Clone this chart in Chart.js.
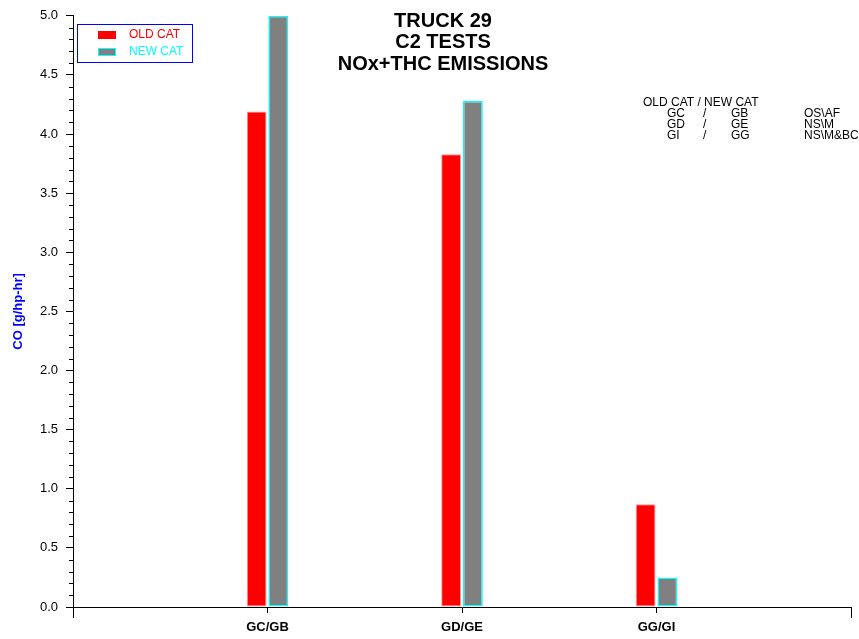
<!DOCTYPE html>
<html>
<head>
<meta charset="utf-8">
<script src="https://cdn.jsdelivr.net/npm/chart.js@4"></script>
<style>
  html, body { margin: 0; padding: 0; background: #fff; }
  #wrap { width: 859px; height: 639px; }
</style>
</head>
<body>
<div id="wrap"><canvas id="chart" width="859" height="639"></canvas></div>
<script>
// categories (old cat / new cat pairs)
var categories = ['GC/GB', 'GD/GE', 'GG/GI'];
var oldCat = [4.19, 3.83, 0.87];
var newCat = [5.00, 4.28, 0.25];
var yTicks = [0, 0.5, 1, 1.5, 2, 2.5, 3, 3.5, 4, 4.5, 5];

var titleLines = ['TRUCK 29', 'C2 TESTS', 'NOx+THC EMISSIONS'];
var noteHeader = 'OLD CAT / NEW CAT';
var noteOld = ['GC', 'GD', 'GI'];
var noteNew = ['GB', 'GE', 'GG'];
var noteDesc = ['OS\\AF', 'NS\\M', 'NS\\M&BC'];

var FONT = 'Arial, "Liberation Sans", sans-serif';

// empty slot at each end so the groups sit at 1,2,3 of a 0..4 axis
var labels = [''].concat(categories, ['']);
function pad(arr) { return [null].concat(arr, [null]); }

var decorations = {
  id: 'decorations',
  afterDraw: function(chart) {
    var ctx = chart.ctx;
    var area = chart.chartArea;
    var y = chart.scales.y;
    ctx.save();

    // minor ticks on the y axis
    ctx.strokeStyle = '#000';
    ctx.lineWidth = 1;
    for (var i = 0; i <= 50; i++) {
      if (i % 5 === 0) continue;
      var py = Math.round(y.getPixelForValue(i / 10)) + 0.5;
      ctx.beginPath();
      ctx.moveTo(area.left - 4, py);
      ctx.lineTo(area.left, py);
      ctx.stroke();
    }
    // long end ticks on x axis
    [area.left, area.right].forEach(function(px) {
      px = Math.round(px) + 0.5;
      ctx.beginPath();
      ctx.moveTo(px, area.bottom);
      ctx.lineTo(px, area.bottom + 11);
      ctx.stroke();
    });

    // title
    ctx.fillStyle = '#000';
    ctx.font = 'bold 20px ' + FONT;
    ctx.textAlign = 'center';
    ctx.textBaseline = 'middle';
    titleLines.forEach(function(t, k) {
      ctx.fillText(t, 443, 21 + k * 21.5);
    });

    // legend box
    var ds = chart.data.datasets;
    ctx.strokeStyle = '#0000ff';
    ctx.strokeRect(77.5, 24.5, 115, 38);
    ctx.font = '12px ' + FONT;
    ctx.textAlign = 'left';
    ds.forEach(function(d, k) {
      var ly = 31 + k * 17;
      ctx.fillStyle = d.backgroundColor;
      ctx.fillRect(98, ly, 18, 8);
      if (k === 1) {
        ctx.strokeStyle = d.borderColor;
        ctx.strokeRect(98.5, ly + 0.5, 17, 7);
      }
      ctx.fillStyle = k === 0 ? '#ff0000' : '#00ffff';
      ctx.fillText(d.label, 129, ly + 4);
    });

    // notes at top right
    ctx.fillStyle = '#000';
    ctx.font = '12px ' + FONT;
    ctx.textAlign = 'left';
    ctx.fillText(noteHeader, 643, 103);
    for (var r = 0; r < noteOld.length; r++) {
      var ry = 114 + r * 11;
      ctx.fillText(noteOld[r], 667, ry);
      ctx.fillText('/', 703, ry);
      ctx.fillText(noteNew[r], 731, ry);
      ctx.fillText(noteDesc[r], 804, ry);
    }
    ctx.restore();
  }
};

new Chart(document.getElementById('chart').getContext('2d'), {
  type: 'bar',
  data: {
    labels: labels,
    datasets: [
      {
        label: 'OLD CAT',
        data: pad(oldCat),
        backgroundColor: '#ff0000',
        borderColor: '#ff9a9a',
        borderWidth: 1,
        borderSkipped: false,
        categoryPercentage: 0.224,
        barPercentage: 0.91
      },
      {
        label: 'NEW CAT',
        data: pad(newCat),
        backgroundColor: '#808080',
        borderColor: '#00ffff',
        borderWidth: 1.5,
        borderSkipped: false,
        categoryPercentage: 0.224,
        barPercentage: 0.91
      }
    ]
  },
  options: {
    responsive: false,
    animation: false,
    layout: { padding: { left: 0, right: 8, top: 15, bottom: 0 } },
    plugins: {
      legend: { display: false },
      title: { display: false },
      tooltip: { enabled: false }
    },
    scales: {
      x: {
        type: 'category',
        offset: false,
        grid: {
          offset: false,
          drawOnChartArea: false,
          color: '#000',
          tickLength: 6,
          tickColor: function(c) { return (c.index === 0 || c.index === labels.length - 1) ? 'rgba(0,0,0,0)' : '#000'; }
        },
        border: { color: '#000', width: 1 },
        ticks: {
          color: '#000',
          font: { family: FONT, size: 13, weight: 'bold' },
          padding: 7,
          maxRotation: 0,
          autoSkip: false
        },
        afterFit: function(s) { s.height = 32; }
      },
      y: {
        min: 0,
        max: 5,
        afterBuildTicks: function(s) { s.ticks = yTicks.map(function(v) { return { value: v }; }); },
        grid: { drawOnChartArea: false, color: '#000', tickLength: 7 },
        border: { color: '#000', width: 1 },
        ticks: {
          color: '#000',
          font: { family: FONT, size: 13 },
          padding: 8,
          callback: function(v) { return Number(v).toFixed(1); }
        },
        title: {
          display: true,
          text: 'CO [g/hp-hr]',
          color: '#0000ff',
          font: { family: FONT, size: 13, weight: 'bold' },
          padding: { top: 11, bottom: 0 }
        },
        afterFit: function(s) { s.width = 73; }
      }
    }
  },
  plugins: [decorations]
});
</script>
</body>
</html>
